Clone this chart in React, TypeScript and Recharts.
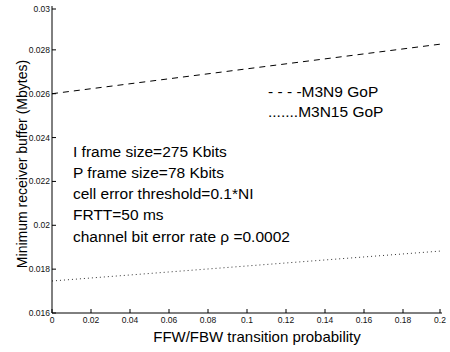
import React from 'react';
import { LineChart, Line, XAxis, YAxis, Customized } from 'recharts';

const probabilities = [0, 0.2];
const m3n9Buffer = [0.026, 0.02827];
const m3n15Buffer = [0.01746, 0.01883];

const xTicks = [0, 0.02, 0.04, 0.06, 0.08, 0.1, 0.12, 0.14, 0.16, 0.18, 0.2];
const yTicks = [0.016, 0.018, 0.02, 0.022, 0.024, 0.026, 0.028, 0.03];

const annotationLines = [
  'I frame size=275 Kbits',
  'P frame size=78 Kbits',
  'cell error threshold=0.1*NI',
  'FRTT=50 ms',
  'channel bit error rate \u03c1 =0.0002',
];
const legendLines = ['- - - -M3N9 GoP', '.......M3N15 GoP'];
const xTitle = 'FFW/FBW transition probability';
const yTitle = 'Minimum receiver buffer (Mbytes)';

const data = probabilities.map((x, i) => ({ x, m3n9: m3n9Buffer[i], m3n15: m3n15Buffer[i] }));

const FONT = '"Liberation Sans", Arial, Helvetica, sans-serif';
const fmt = (v: number) => String(parseFloat(v.toFixed(4)));

const BottomTick = (props: any) => {
  const { x, y, payload } = props;
  return (
    <g>
      <line x1={x} y1={y} x2={x} y2={y - 4} stroke="#000" strokeWidth={1} />
      <text x={x} y={y + 10} textAnchor="middle" fontSize={8.5} fill="#111" fontFamily={FONT}>
        {fmt(payload.value)}
      </text>
    </g>
  );
};
const TopTick = (props: any) => {
  const { x, y } = props;
  return <line x1={x} y1={y} x2={x} y2={y + 4} stroke="#000" strokeWidth={1} />;
};
const LeftTick = (props: any) => {
  const { x, y, payload } = props;
  return (
    <g>
      <line x1={x} y1={y} x2={x + 4} y2={y} stroke="#000" strokeWidth={1} />
      <text x={x - 2} y={y + 3} textAnchor="end" fontSize={8.5} fill="#111" fontFamily={FONT}>
        {fmt(payload.value)}
      </text>
    </g>
  );
};
const RightTick = (props: any) => {
  const { x, y } = props;
  return <line x1={x} y1={y} x2={x - 4} y2={y} stroke="#000" strokeWidth={1} />;
};

const Texts = () => (
  <g fontFamily={FONT} fill="#000">
    {annotationLines.map((t, i) => (
      <text key={t} x={73} y={156.5 + i * 21.3} fontSize={15.5}>
        {t}
      </text>
    ))}
    {legendLines.map((t, i) => (
      <text key={t} x={268} y={97 + i * 20} fontSize={15.5}>
        {t}
      </text>
    ))}
    <text x={257} y={342} fontSize={15} textAnchor="middle">
      {xTitle}
    </text>
    <text x={27} y={164} fontSize={14} textAnchor="middle" transform="rotate(-90 27 164)">
      {yTitle}
    </text>
  </g>
);

export default function App() {
  return (
    <div style={{ position: 'absolute', left: 0, top: 0, width: 450, height: 352, background: '#fff' }}>
      <LineChart width={450} height={352} data={data} margin={{ top: 6, right: 8, bottom: 0, left: 0 }}>
        <XAxis
          xAxisId="b"
          dataKey="x"
          type="number"
          domain={[0, 0.2]}
          ticks={xTicks}
          height={39}
          tickSize={0}
          tickMargin={0}
          tickLine={false}
          tick={<BottomTick />}
          axisLine={{ stroke: '#000' }}
          allowDataOverflow
        />
        <XAxis
          xAxisId="t"
          orientation="top"
          dataKey="x"
          type="number"
          domain={[0, 0.2]}
          ticks={xTicks}
          height={0}
          tickSize={0}
          tickMargin={0}
          tickLine={false}
          tick={<TopTick />}
          axisLine={{ stroke: '#000' }}
          allowDataOverflow
        />
        <YAxis
          yAxisId="l"
          type="number"
          domain={[0.016, 0.03]}
          ticks={yTicks}
          width={52}
          tickSize={0}
          tickMargin={0}
          tickLine={false}
          tick={<LeftTick />}
          axisLine={{ stroke: '#000' }}
          allowDataOverflow
        />
        <YAxis
          yAxisId="r"
          orientation="right"
          type="number"
          domain={[0.016, 0.03]}
          ticks={yTicks}
          width={0}
          tickSize={0}
          tickMargin={0}
          tickLine={false}
          tick={<RightTick />}
          axisLine={{ stroke: '#000' }}
          allowDataOverflow
        />
        <Line
          xAxisId="b"
          yAxisId="l"
          dataKey="m3n9"
          stroke="#000"
          strokeWidth={1}
          strokeDasharray="6 5"
          dot={false}
          isAnimationActive={false}
        />
        <Line
          xAxisId="b"
          yAxisId="l"
          dataKey="m3n15"
          stroke="#333"
          strokeWidth={1}
          strokeDasharray="1 3"
          dot={false}
          isAnimationActive={false}
        />
        <Customized component={<Texts />} />
      </LineChart>
    </div>
  );
}
